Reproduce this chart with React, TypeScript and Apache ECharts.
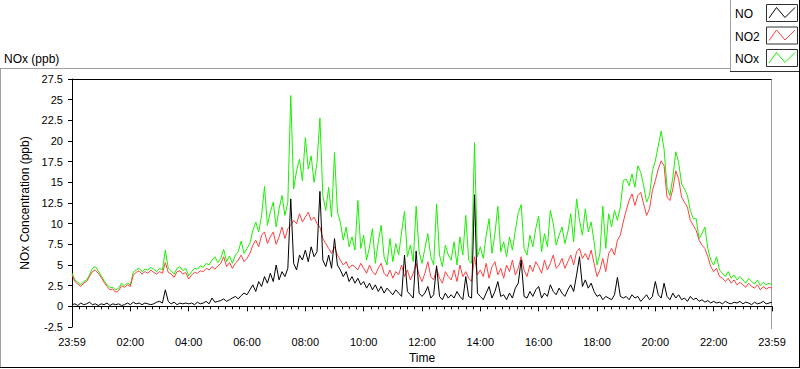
import React, { useEffect, useRef } from "react";
import * as echarts from "echarts";

// Sampling: one reading every 0.1 h (6 min), from 23:59 to 23:59 next day
const STEP_HOURS = 0.1;

const xTickLabels = [
  "23:59", "02:00", "04:00", "06:00", "08:00", "10:00", "12:00",
  "14:00", "16:00", "18:00", "20:00", "22:00", "23:59",
];

// NOx (green)
const noxValues = [
  4.0, 3.2, 2.9, 2.6, 3.0, 3.2, 3.8, 4.6, 4.8, 4.3,
  3.7, 3.1, 2.6, 2.3, 2.3, 2.0, 2.2, 2.8, 2.5, 2.8,
  2.6, 4.1, 4.4, 4.6, 4.2, 4.5, 4.4, 4.7, 4.5, 4.2,
  4.6, 4.4, 6.8, 4.6, 4.3, 3.9, 4.6, 4.8, 4.3, 4.6,
  3.7, 4.2, 4.6, 4.5, 4.9, 4.7, 5.2, 5.0, 5.6, 6.0,
  5.3, 5.8, 6.9, 5.4, 6.1, 5.2, 6.2, 6.6, 7.9, 6.4,
  7.0, 7.6, 9.2, 10.2, 9.0, 11.0, 14.5, 9.8, 11.4, 12.6,
  9.6, 11.8, 13.4, 11.0, 12.6, 25.5, 14.2, 16.4, 17.8, 15.2,
  20.4, 16.6, 18.2, 15.0, 17.4, 22.8, 13.4, 11.6, 14.4, 10.8,
  18.6, 11.4, 10.2, 8.0, 9.6, 7.2, 8.4, 6.8, 12.8, 7.0,
  8.6, 5.6, 7.2, 9.4, 5.2, 7.8, 9.8, 6.0, 5.0, 8.2,
  5.4, 7.6, 6.2, 9.0, 11.5, 6.0, 7.4, 5.4, 12.1, 6.6,
  5.2, 7.0, 8.8, 6.0, 5.0, 12.4, 6.2, 4.8, 7.4, 6.2,
  5.6, 7.8, 5.0, 8.4, 6.2, 11.0, 5.6, 5.2, 19.8, 6.0,
  7.2, 5.8, 8.6, 10.6, 6.4, 8.8, 12.1, 6.6, 7.8, 6.0,
  8.4, 6.8, 9.2, 11.3, 12.3, 7.0, 6.2, 8.6, 7.2, 9.4,
  10.9, 6.6, 8.8, 7.2, 11.6, 10.0, 7.4, 8.6, 9.6, 7.6,
  9.0, 11.2, 7.8, 13.0, 10.4, 8.6, 11.8, 9.0, 10.2, 7.8,
  5.0, 6.4, 12.1, 7.0, 11.2, 9.6, 11.6, 10.4, 12.0, 15.2,
  15.4, 14.6, 16.0, 14.4, 17.0, 16.2, 14.6, 12.6, 13.4, 16.4,
  17.6, 19.4, 21.2, 19.0, 14.4, 13.4, 15.6, 18.7, 17.4, 14.8,
  14.2, 13.4, 11.6, 10.6, 10.6, 8.2, 8.8, 9.6, 7.0, 5.6,
  5.0, 6.0, 4.4, 4.0, 3.6, 4.2, 3.4, 3.8, 3.2, 3.6,
  3.2, 2.8, 3.4, 3.0, 2.7, 3.2, 2.5, 2.9, 2.6, 2.8,
  2.6,
];

// NO2 (red)
const no2Values = [
  3.8, 3.0, 2.7, 2.4, 2.8, 3.0, 3.6, 4.2, 4.4, 4.0,
  3.5, 2.9, 2.4, 2.0, 2.1, 1.7, 1.9, 2.5, 2.3, 2.6,
  2.4, 3.8, 4.1, 4.3, 3.9, 4.2, 4.0, 4.4, 4.1, 3.9,
  4.2, 4.0, 5.3, 4.1, 3.9, 3.5, 4.2, 4.3, 3.9, 4.1,
  3.3, 3.8, 4.1, 4.0, 4.3, 4.2, 4.6, 4.4, 4.8, 4.5,
  4.9, 5.2, 6.0, 4.8, 5.3, 4.6, 5.2, 5.6, 6.2, 5.4,
  5.8, 6.4, 7.4, 8.0, 7.2, 8.6, 9.0, 7.6, 8.4, 9.0,
  7.5, 8.4, 9.6, 8.2, 9.4, 9.8, 10.4, 10.0, 11.2, 10.2,
  10.8, 11.4, 10.4, 10.8, 10.0, 9.6, 8.2, 7.6, 7.0, 6.4,
  7.2, 6.2, 5.6, 5.0, 5.4, 4.6, 5.0, 4.8, 4.4, 5.2,
  4.6, 4.0, 5.0, 4.2, 3.8, 4.6, 5.2, 4.0, 3.6, 4.4,
  3.4, 4.2, 3.8, 5.0, 3.6, 4.4, 3.2, 4.0, 5.2, 3.8,
  3.0, 4.0, 5.4, 3.6, 3.2, 4.6, 3.4, 2.8, 4.2, 3.6,
  3.2, 4.4, 3.0, 5.0, 3.6, 4.2, 3.4, 3.0, 6.0, 3.8,
  4.4, 3.6, 5.2, 3.4, 4.8, 5.4, 3.8, 4.6, 3.4, 5.0,
  4.2, 5.6, 3.8, 4.6, 6.0, 4.4, 3.6, 5.0, 4.2, 5.4,
  4.8, 4.0, 5.6, 4.4, 5.2, 6.2, 4.6, 5.0, 5.8, 4.6,
  5.4, 6.2, 5.0, 6.6, 7.0, 5.8, 6.4, 5.6, 6.8, 5.2,
  3.6, 4.4, 5.8, 4.2, 6.4, 7.0, 6.2, 8.0, 8.6, 10.2,
  11.6, 12.8, 13.6, 12.2, 13.4, 13.8, 12.4, 11.0, 11.8, 14.0,
  15.2, 16.6, 17.6, 17.0, 13.2, 12.8, 14.2, 16.4, 15.4, 13.2,
  12.6, 12.0, 10.4, 9.8, 9.2, 8.0, 7.4, 7.0, 6.0, 4.8,
  4.2, 4.6, 3.6, 3.4, 3.0, 3.4, 2.8, 3.2, 2.6, 2.9,
  2.6, 2.3, 2.8, 2.4, 2.2, 2.6, 2.0, 2.4, 2.1, 2.3,
  2.2,
];

// NO (black)
const noValues = [
  0.2, 0.3, 0.1, 0.4, 0.2, 0.3, 0.5, 0.2, 0.3, 0.1,
  0.3, 0.2, 0.4, 0.1, 0.3, 0.2, 0.3, 0.1, 0.2, 0.4,
  0.2, 0.5, 0.3, 0.4, 0.2, 0.4, 0.3, 0.2, 0.3, 0.5,
  0.6, 0.4, 2.0, 0.6, 0.3, 0.5, 0.2, 0.4, 0.3, 0.4,
  0.3, 0.4, 0.2, 0.5, 0.3, 0.4, 0.6, 0.3, 1.0, 0.5,
  0.6, 0.7, 0.9, 0.6, 0.8, 1.0, 1.2, 0.9, 1.3, 1.6,
  1.4, 2.0, 2.6, 1.8, 3.0, 2.4, 3.6, 2.8, 4.0, 3.0,
  5.0, 3.2, 4.2, 3.6, 4.6, 13.0, 5.2, 4.4, 6.2, 5.6,
  6.8, 5.4, 7.2, 6.0, 6.6, 13.9, 5.6, 4.8, 6.2, 4.6,
  8.2, 5.0, 4.4, 3.6, 4.2, 3.0, 3.6, 2.8, 3.4, 2.6,
  3.0, 2.2, 2.8, 2.0, 2.6, 1.8, 2.4, 1.6, 2.2, 1.8,
  1.4, 2.0, 1.6, 1.2, 6.2, 1.8, 1.4, 1.0, 6.7, 1.6,
  1.2, 1.6, 2.4, 1.0, 1.4, 4.9, 1.2, 0.8, 1.6, 1.0,
  1.4, 1.0, 1.8, 1.2, 0.8, 3.6, 1.2, 1.0, 13.5, 1.6,
  1.2, 0.8, 1.6, 2.4, 1.0, 1.8, 3.0, 1.2, 1.4, 0.8,
  1.6, 1.0, 2.2, 2.8, 5.6, 1.2, 1.0, 1.8, 1.2, 2.0,
  2.4, 1.0, 1.6, 1.2, 2.6, 1.8, 1.4, 2.2, 1.6, 1.2,
  2.0, 2.6, 1.8, 3.8, 6.0, 2.4, 3.2, 2.2, 2.8, 1.8,
  1.2, 1.4, 0.8, 1.2, 1.0, 0.8, 1.4, 3.5, 1.2, 1.0,
  1.2, 0.8, 1.4, 1.0, 1.2, 0.6, 1.0, 1.4, 0.8, 1.2,
  3.0, 1.4, 1.0, 2.8, 1.2, 0.8, 1.6, 1.0, 1.4, 0.8,
  1.0, 0.6, 1.2, 0.8, 1.0, 0.6, 0.8, 0.5, 0.7, 0.4,
  0.6, 0.4, 0.5, 0.3, 0.6, 0.4, 0.3, 0.5, 0.4, 0.6,
  0.3, 0.5, 0.4, 0.2, 0.5, 0.3, 0.4, 0.6, 0.3, 0.4,
  0.5,
];

const seriesNames = ["NO", "NO2", "NOx"];
const seriesColors = ["#000000", "#ff4040", "#19f000"];

const FONT = "'Liberation Sans', Arial, sans-serif";

function toPairs(values: number[]) {
  return values.map((v, i) => [+(i * STEP_HOURS).toFixed(2), v]);
}

export default function App() {
  const ref = useRef<HTMLDivElement>(null);

  useEffect(() => {
    if (!ref.current) return;
    const chart = echarts.init(ref.current, undefined, { renderer: "svg" });

    const legendBoxesY = [4.5, 27, 49.5];
    const legendTextY = [14, 36.5, 59];
    const legendGraphics: any[] = [];
    seriesNames.forEach((name, i) => {
      const by = legendBoxesY[i];
      legendGraphics.push({
        type: "text",
        x: 735,
        y: legendTextY[i],
        style: { text: name, fontSize: 12, fontFamily: FONT, fill: "#000", verticalAlign: "middle", align: "left" },
      });
      legendGraphics.push({
        type: "rect",
        shape: { x: 766.5, y: by, width: 31, height: 17 },
        style: { fill: "#fff", stroke: "#303030", lineWidth: 1 },
      });
      legendGraphics.push({
        type: "polyline",
        shape: {
          points: [
            [769, by + 13.5],
            [776.5, by + 3],
            [785, by + 13],
            [795, by + 3],
          ],
        },
        style: { stroke: seriesColors[i], lineWidth: 1, fill: null },
      });
    });

    const option: any = {
      animation: false,
      textStyle: { fontFamily: FONT },
      grid: { left: 72, right: 28, top: 79, bottom: 40 },
      xAxis: {
        type: "value",
        min: 0,
        max: 24,
        interval: 2,
        name: "Time",
        nameLocation: "middle",
        nameGap: 25,
        nameTextStyle: { fontSize: 12, color: "#000", fontFamily: FONT },
        axisLine: { show: true, lineStyle: { color: "#000", width: 1 } },
        axisTick: { show: true, length: 5, lineStyle: { color: "#000" } },
        minorTick: { show: true, splitNumber: 8, length: 3, lineStyle: { color: "#000" } },
        axisLabel: {
          fontSize: 11,
          color: "#000",
          margin: 9,
          fontFamily: FONT,
          showMinLabel: true,
          showMaxLabel: true,
          formatter: (v: number) => xTickLabels[Math.round(v / 2)] ?? "",
        },
        splitLine: { show: false },
      },
      yAxis: {
        type: "value",
        min: -2.5,
        max: 27.5,
        interval: 2.5,
        name: "NOx Concentration (ppb)",
        nameLocation: "middle",
        nameGap: 34,
        nameRotate: 90,
        nameTextStyle: { fontSize: 12, color: "#000", fontFamily: FONT },
        axisLine: { show: true, lineStyle: { color: "#000", width: 1 } },
        axisTick: { show: true, length: 4, lineStyle: { color: "#000" } },
        axisLabel: { fontSize: 11, color: "#000", margin: 9, fontFamily: FONT },
        splitLine: { show: false },
      },
      series: [
        {
          name: "NOx",
          type: "line",
          data: toPairs(noxValues),
          showSymbol: false,
          symbol: "none",
          lineStyle: { color: seriesColors[2], width: 1 },
          itemStyle: { color: seriesColors[2] },
          emphasis: { disabled: true },
          z: 2,
        },
        {
          name: "NO2",
          type: "line",
          data: toPairs(no2Values),
          showSymbol: false,
          symbol: "none",
          lineStyle: { color: seriesColors[1], width: 1 },
          itemStyle: { color: seriesColors[1] },
          emphasis: { disabled: true },
          z: 3,
        },
        {
          name: "NO",
          type: "line",
          data: toPairs(noValues),
          showSymbol: false,
          symbol: "none",
          lineStyle: { color: seriesColors[0], width: 1 },
          itemStyle: { color: seriesColors[0] },
          emphasis: { disabled: true },
          z: 4,
        },
      ],
      graphic: [
        {
          type: "text",
          x: 4,
          y: 59,
          style: { text: "NOx (ppb)", fontSize: 12, fontFamily: FONT, fill: "#000", verticalAlign: "middle" },
        },
        { type: "line", shape: { x1: 0, y1: 68.5, x2: 731, y2: 68.5 }, style: { stroke: "#a0a0a0", lineWidth: 1 } },
        { type: "line", shape: { x1: 0.5, y1: 68.5, x2: 0.5, y2: 367.5 }, style: { stroke: "#a0a0a0", lineWidth: 1 } },
        { type: "line", shape: { x1: 0, y1: 367.5, x2: 800, y2: 367.5 }, style: { stroke: "#000", lineWidth: 1 } },
        { type: "line", shape: { x1: 799.5, y1: 0, x2: 799.5, y2: 368 }, style: { stroke: "#000", lineWidth: 1 } },
        { type: "line", shape: { x1: 72, y1: 79.5, x2: 772, y2: 79.5 }, style: { stroke: "#000", lineWidth: 1 } },
        { type: "line", shape: { x1: 771.5, y1: 79.5, x2: 771.5, y2: 329 }, style: { stroke: "#a0a0a0", lineWidth: 1 } },
        { type: "rect", shape: { x: 730.5, y: -1, width: 69, height: 72.5 }, style: { fill: "#fff", stroke: "#a0a0a0", lineWidth: 1 } },
        { type: "line", shape: { x1: 730, y1: 71.5, x2: 800, y2: 71.5 }, style: { stroke: "#303030", lineWidth: 1 } },
        { type: "line", shape: { x1: 799.5, y1: 0, x2: 799.5, y2: 72 }, style: { stroke: "#000", lineWidth: 1 } },
        ...legendGraphics,
      ],
    };

    chart.setOption(option);
    return () => chart.dispose();
  }, []);

  return <div ref={ref} style={{ width: 800, height: 369, position: "absolute", left: 0, top: 0, background: "#fff" }} />;
}
